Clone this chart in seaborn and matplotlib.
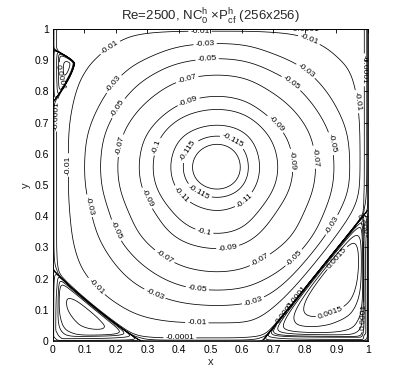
import numpy as np
import matplotlib.pyplot as plt
import seaborn as sns

# stream function values read along the cut y = 0.555 (through the vortex centre)
x_cut = [0.0, 0.012, 0.049, 0.10, 0.149, 0.202, 0.268, 0.313, 0.366, 0.40, 0.425, 0.52,
         0.616, 0.635, 0.66, 0.72, 0.768, 0.837, 0.895, 0.943, 0.975, 0.988, 1.0]
psi_x = [0.0, -0.0001, -0.01, -0.03, -0.05, -0.07, -0.09, -0.1, -0.11, -0.115, -0.1175, -0.1215,
         -0.1175, -0.115, -0.11, -0.1, -0.09, -0.07, -0.05, -0.03, -0.01, -0.0001, 0.0]

# stream function values read along the cut x = 0.52
y_cut = [0.0, 0.01, 0.058, 0.115, 0.158, 0.218, 0.292, 0.334, 0.415, 0.452, 0.468, 0.555,
         0.65, 0.671, 0.699, 0.747, 0.788, 0.858, 0.906, 0.954, 0.993, 1.0]
psi_y = [0.0, -0.0001, -0.01, -0.03, -0.05, -0.07, -0.09, -0.1, -0.11, -0.115, -0.1175, -0.1215,
         -0.1175, -0.115, -0.11, -0.1, -0.09, -0.07, -0.05, -0.03, -0.01, 0.0]

# secondary eddies: extent along the two walls and strength
bl_extent = (0.28, 0.23)
br_extent = (0.335, 0.42)
tl_extent = (0.068, 0.89, 0.045, 0.125)   # width, y of bulge, up, down
eddy_strength = [0.16, 0.28, 0.1]          # bottom-left, bottom-right, top-left

plain_levels = [-1e-5, -1e-7, -1e-10, 1e-10, 1e-7, 1e-6, 1e-5, 5e-5, 2.5e-4, 5e-4, 1e-3, 3e-3]
label_levels = [-0.1175, -0.115, -0.11, -0.1, -0.09, -0.07, -0.05, -0.03, -0.01,
                -1e-4, 1e-4, 1.5e-3]
ticks = [0, 0.1, 0.2, 0.3, 0.4, 0.5, 0.6, 0.7, 0.8, 0.9, 1]

# where the contour labels sit in the original figure
label_spots = [(0.467, 0.99), (0.8, 0.99), (0.483, 0.952), (0.806, 0.949), (0.489, 0.91),
               (0.81, 0.875), (0.752, 0.82), (0.42, 0.862), (0.73, 0.718), (0.981, 0.869),
               (0.937, 0.763), (0.895, 0.635), (0.838, 0.59), (0.768, 0.58), (0.181, 0.942),
               (0.19, 0.827), (0.206, 0.747), (0.206, 0.628), (0.013, 0.724), (0.032, 0.846),
               (0.429, 0.772), (0.053, 0.564), (0.333, 0.622), (0.429, 0.612), (0.276, 0.446),
               (0.39, 0.452), (0.102, 0.43), (0.181, 0.346), (0.476, 0.33), (0.343, 0.253),
               (0.152, 0.189), (0.556, 0.292), (0.657, 0.26), (0.762, 0.27), (0.886, 0.372),
               (0.975, 0.366), (0.457, 0.157), (0.635, 0.131), (0.762, 0.147), (0.318, 0.138),
               (0.457, 0.058), (0.403, 0.01), (0.917, 0.253), (0.746, 0.083), (0.886, 0.074),
               (0.984, 0.077), (0.46, 0.47), (0.58, 0.66), (0.6, 0.46)]


def pchip(xk, yk, x, m0, m1):
    xk = np.asarray(xk, float)
    yk = np.asarray(yk, float)
    h = np.diff(xk)
    d = np.diff(yk) / h
    m = np.zeros_like(yk)
    for i in range(1, len(xk) - 1):
        if d[i - 1] * d[i] > 0:
            w1 = 2 * h[i] + h[i - 1]
            w2 = h[i] + 2 * h[i - 1]
            m[i] = (w1 + w2) / (w1 / d[i - 1] + w2 / d[i])
    m[0] = m0
    m[-1] = d[-1] if m1 is None else m1
    i = np.clip(np.searchsorted(xk, x) - 1, 0, len(xk) - 2)
    t = (x - xk[i]) / h[i]
    h00 = 2 * t**3 - 3 * t**2 + 1
    h10 = t**3 - 2 * t**2 + t
    h01 = -2 * t**3 + 3 * t**2
    h11 = t**3 - t**2
    return h00 * yk[i] + h10 * h[i] * m[i] + h01 * yk[i + 1] + h11 * h[i] * m[i + 1]


def smooth_inside(prof, grid, sigma=0.035):
    # gaussian smoothing away from the walls, raw profile close to them
    dx = grid[1] - grid[0]
    half = int(4 * sigma / dx)
    ker = np.exp(-0.5 * (np.arange(-half, half + 1) * dx / sigma) ** 2)
    ker /= ker.sum()
    padded = np.pad(prof, half, mode='reflect')
    sm = np.convolve(padded, ker, mode='same')[half:-half]
    wall = np.minimum(grid, 1 - grid)
    wt = np.clip((wall - 0.06) / 0.08, 0, 1)
    return wt * sm + (1 - wt) * prof


def eddy(rho, c, w=0.25, k=25):
    inside = c * (1 - np.exp(-(1 - rho) / w))
    outside = -(c / w) * (rho - 1) - k * (rho - 1) ** 2
    return np.exp(np.where(rho < 1, inside, outside))


psi0 = -min(psi_x)
n = 701
g = np.linspace(0, 1, n)
X, Y = np.meshgrid(g, g)
P = smooth_inside(pchip(x_cut, np.abs(psi_x) / psi0, g, 0.0, 0.0), g)
Q = smooth_inside(pchip(y_cut, np.abs(psi_y) / psi0, g, 0.0, None), g)
U, V = np.meshgrid(np.clip(1 - P, 0, 1), np.clip(1 - Q, 0, 1))


def expo(w):
    return 1 + 0.08 * w**4 / np.maximum(1 - w, 1e-9)


# level w of each point: (U/w)^m(w) + (V/w)^m(w) = 1, circles inside, squares outside
lo = np.zeros_like(U)
hi = np.ones_like(U)
for _ in range(48):
    mid = 0.5 * (lo + hi)
    m = expo(mid)
    mm = np.maximum(mid, 1e-12)
    h = np.minimum(U / mm, 2) ** m + np.minimum(V / mm, 2) ** m - 1
    lo = np.where(h > 0, mid, lo)
    hi = np.where(h > 0, hi, mid)
F = 1 - 0.5 * (lo + hi)

rho_bl = (X / bl_extent[0]) ** 0.92 + (Y / bl_extent[1]) ** 0.92
rho_br = (1 - X) / br_extent[0] + Y / br_extent[1]
dy = Y - tl_extent[1]
rho_tl = X / tl_extent[0] + (np.abs(dy) / np.where(dy > 0, tl_extent[2], tl_extent[3])) ** 1.4
E = (eddy(rho_bl, eddy_strength[0]) + eddy(rho_br, eddy_strength[1])
     + eddy(rho_tl, eddy_strength[2]))
psi = -psi0 * F * (1 - E)

sns.set_style("white")
plt.rcParams['font.family'] = ['Liberation Sans', 'DejaVu Sans']
plt.rcParams['mathtext.fontset'] = 'custom'
plt.rcParams['mathtext.rm'] = 'Liberation Sans'
plt.rcParams['mathtext.it'] = 'Liberation Sans'

fig = plt.figure(figsize=(4.07, 3.84), dpi=100)
ax = fig.add_axes([0.130, 0.112, 0.774, 0.8125])

ax.contour(X, Y, psi, levels=plain_levels, colors='black', linewidths=0.55,
           linestyles='solid')
cs = ax.contour(X, Y, psi, levels=sorted(label_levels), colors='black', linewidths=0.55,
                linestyles='solid')
ax.clabel(cs, inline=True, fontsize=6, fmt=lambda v: '%g' % v,
          inline_spacing=2, manual=label_spots)

ax.set_xlim(0, 1)
ax.set_ylim(0, 1)
ax.set_xticks(ticks)
ax.set_yticks(ticks)
ax.set_xticklabels(['%g' % t for t in ticks])
ax.set_yticklabels(['%g' % t for t in ticks])
ax.tick_params(direction='in', length=3, width=0.6, labelsize=7.5, top=True, right=True,
               pad=3, colors='black')
for s in ax.spines.values():
    s.set_linewidth(0.6)
    s.set_color('black')
ax.set_xlabel('x', fontsize=8, labelpad=1)
ax.set_ylabel('y', fontsize=8, labelpad=2, rotation=90)
ax.set_title(r'Re=2500, NC$_0^h$ $\times$P$^h_{cf}$ (256x256)', fontsize=9.5, pad=6)

fig.savefig('out.png', dpi=100)
